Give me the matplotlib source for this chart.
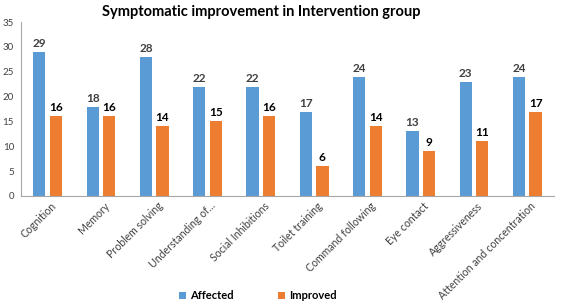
import matplotlib
matplotlib.use("Agg")
import matplotlib.pyplot as plt
import numpy as np

plt.rcParams['font.family'] = ['Lato', 'DejaVu Sans']

categories = ["Cognition", "Memory", "Problem solving", "Understanding of...",
              "Social Inhibitions", "Toilet training", "Command following",
              "Eye contact", "Aggressiveness", "Attention and concentration"]
affected = [29, 18, 28, 22, 22, 17, 24, 13, 23, 24]
improved = [16, 16, 14, 15, 16, 6, 14, 9, 11, 17]

fig = plt.figure(figsize=(5.67, 3.02), dpi=100)
ax = fig.add_axes([0.037, 0.351, 0.94, 0.576])

x = np.arange(len(categories))
w = 0.23
b1 = ax.bar(x - w/2 - 0.04, affected, w, color='#5B9BD5', label='Affected')
b2 = ax.bar(x + w/2 + 0.04, improved, w, color='#ED7D31', label='Improved')

for r, v in zip(b1, affected):
    ax.text(r.get_x() + r.get_width()/2, v + 0.6, str(v), ha='center', va='bottom',
            fontsize=8.5, fontweight='bold', color='#404040')
for r, v in zip(b2, improved):
    ax.text(r.get_x() + r.get_width()/2, v + 0.6, str(v), ha='center', va='bottom',
            fontsize=8.5, fontweight='bold', color='black')

ax.set_ylim(0, 35)
ax.set_yticks(range(0, 36, 5))
ax.set_xlim(-0.5, len(categories) - 0.5)
ax.set_xticks(x + 0.05)
ax.set_xticklabels(categories, rotation=45, ha='right', rotation_mode='anchor', fontsize=7.6, color='#404040')
ax.tick_params(axis='y', labelsize=7, colors='#404040', length=0, pad=5)
ax.tick_params(axis='x', length=0, pad=3)
for s in ['top', 'right']:
    ax.spines[s].set_visible(False)
for s in ['left', 'bottom']:
    ax.spines[s].set_color('#A6A6A6')
    ax.spines[s].set_linewidth(0.8)

fig.suptitle('Symptomatic improvement in Intervention group', x=0.46, y=0.985,
             fontsize=10.5, fontweight='bold', color='black')

leg = fig.legend(handles=[b1, b2], labels=['Affected', 'Improved'], loc='lower center',
                 bbox_to_anchor=(0.455, -0.03), ncol=2, frameon=False,
                 prop={'size': 8, 'weight': 'bold'}, handlelength=0.6, handleheight=0.6,
                 handletextpad=0.4, columnspacing=4)

fig.savefig('out.png', dpi=100)
